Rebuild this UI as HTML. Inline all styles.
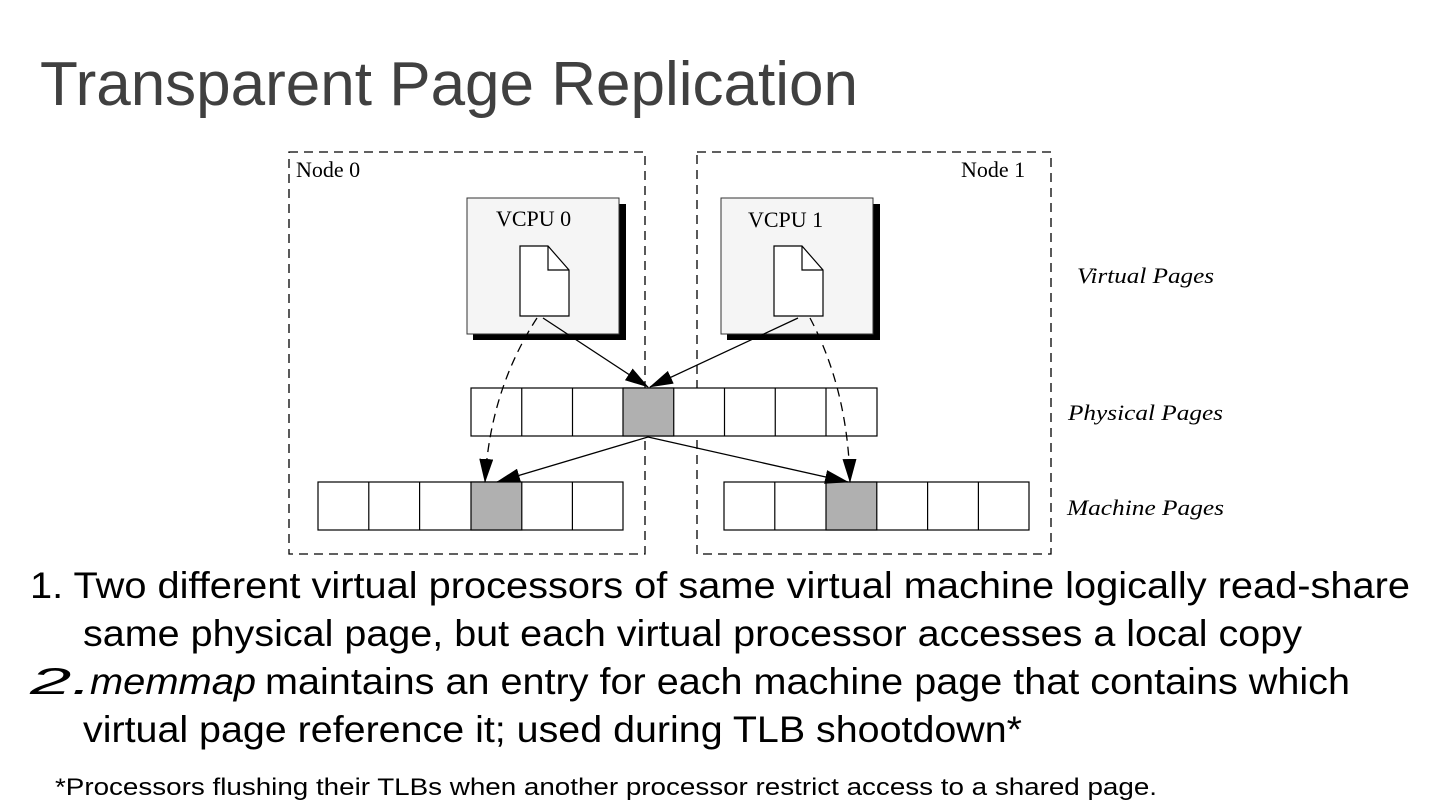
<!DOCTYPE html>
<html><head><meta charset="utf-8"><style>
html,body{margin:0;padding:0;background:#fff;}
svg{display:block}
</style></head><body>
<svg width="1440" height="810" viewBox="0 0 1440 810" xmlns="http://www.w3.org/2000/svg">
<defs>
<marker id="ah" markerWidth="12" markerHeight="10" refX="11" refY="5" orient="auto" markerUnits="userSpaceOnUse">
<path d="M0,0 L12,5 L0,10 Z" fill="#000"/>
</marker>
<marker id="ah2" markerWidth="24" markerHeight="14" refX="23" refY="7" orient="auto" markerUnits="userSpaceOnUse">
<path d="M0,0 L24,7 L0,14 Z" fill="#000"/>
</marker>
</defs>
<text x="40" y="105" font-family="Liberation Sans, sans-serif" font-size="62" fill="#404040" textLength="818" lengthAdjust="spacingAndGlyphs">Transparent Page Replication</text>

<g fill="none" stroke="#000" stroke-width="1.3" stroke-dasharray="9,6">
<rect x="289" y="152" width="356" height="402"/>
<rect x="697" y="152" width="354" height="402"/>
</g>
<g font-family="Liberation Serif, serif" font-size="22" fill="#000">
<text x="296" y="177">Node 0</text>
<text x="961" y="177">Node 1</text>
</g>

<!-- VCPU boxes -->
<rect x="473" y="204" width="153" height="136" fill="#000"/>
<rect x="467" y="198" width="152" height="136" fill="#f5f5f5" stroke="#333" stroke-width="1"/>
<rect x="727" y="204" width="153" height="136" fill="#000"/>
<rect x="721" y="198" width="152" height="136" fill="#f5f5f5" stroke="#333" stroke-width="1"/>
<g font-family="Liberation Serif, serif" font-size="22" fill="#000">
<text x="496" y="226">VCPU 0</text>
<text x="748" y="227">VCPU 1</text>
</g>
<g fill="#fff" stroke="#000" stroke-width="1.2">
<path d="M520,246 L548,246 L569,270 L569,316 L520,316 Z"/>
<path d="M548,246 L548,270 L569,270" fill="none"/>
<path d="M774,246 L802,246 L823,270 L823,316 L774,316 Z"/>
<path d="M802,246 L802,270 L823,270" fill="none"/>
</g>

<!-- physical pages -->
<g stroke="#000" stroke-width="1.2" fill="#fff">
<rect x="471" y="388" width="406" height="48"/>
<rect x="623" y="388" width="50.75" height="48" fill="#b0b0b0"/>
<line x1="521.75" y1="388" x2="521.75" y2="436"/>
<line x1="572.5" y1="388" x2="572.5" y2="436"/>
<line x1="724.5" y1="388" x2="724.5" y2="436"/>
<line x1="775.25" y1="388" x2="775.25" y2="436"/>
<line x1="826" y1="388" x2="826" y2="436"/>
<!-- machine left -->
<rect x="318" y="482" width="305" height="48"/>
<rect x="471" y="482" width="50.8" height="48" fill="#b0b0b0"/>
<line x1="368.8" y1="482" x2="368.8" y2="530"/>
<line x1="419.6" y1="482" x2="419.6" y2="530"/>
<line x1="572.4" y1="482" x2="572.4" y2="530"/>
<!-- machine right -->
<rect x="724" y="482" width="305" height="48"/>
<rect x="826" y="482" width="50.8" height="48" fill="#b0b0b0"/>
<line x1="774.8" y1="482" x2="774.8" y2="530"/>
<line x1="927.6" y1="482" x2="927.6" y2="530"/>
<line x1="978.4" y1="482" x2="978.4" y2="530"/>
</g>

<!-- arrows -->
<g stroke="#000" stroke-width="1.3" fill="none">
<line x1="543" y1="318" x2="648" y2="387" marker-end="url(#ah2)"/>
<line x1="798" y1="318" x2="650" y2="387" marker-end="url(#ah2)"/>
<line x1="648" y1="437" x2="497" y2="482" marker-end="url(#ah2)"/>
<line x1="648" y1="437" x2="848" y2="482" marker-end="url(#ah2)"/>
<path d="M537,318 Q490,390 485,482" stroke-dasharray="9,6" marker-end="url(#ah2)"/>
<path d="M810,318 Q848,390 850,482" stroke-dasharray="9,6" marker-end="url(#ah2)"/>
</g>

<g font-family="Liberation Serif, serif" font-style="italic" font-size="22" fill="#000">
<text x="1077" y="283" textLength="137" lengthAdjust="spacingAndGlyphs">Virtual Pages</text>
<text x="1068" y="420" textLength="155" lengthAdjust="spacingAndGlyphs">Physical Pages</text>
<text x="1067" y="515" textLength="157" lengthAdjust="spacingAndGlyphs">Machine Pages</text>
</g>

<g font-family="Liberation Sans, sans-serif" font-size="37" fill="#000">
<text x="30" y="598" textLength="1380" lengthAdjust="spacingAndGlyphs">1. Two different virtual processors of same virtual machine logically read-share</text>
<text x="83" y="646" textLength="1219" lengthAdjust="spacingAndGlyphs">same physical page, but each virtual processor accesses a local copy</text>
<text x="30" y="694" font-style="italic" textLength="62" lengthAdjust="spacingAndGlyphs">2.</text>
<text x="90" y="694" font-style="italic" textLength="166" lengthAdjust="spacingAndGlyphs">memmap</text>
<text x="265" y="694" textLength="1085" lengthAdjust="spacingAndGlyphs">maintains an entry for each machine page that contains which</text>
<text x="83" y="742" textLength="939" lengthAdjust="spacingAndGlyphs">virtual page reference it; used during TLB shootdown*</text>
</g>
<text x="55" y="795" font-family="Liberation Sans, sans-serif" font-size="24" fill="#000" textLength="1102" lengthAdjust="spacingAndGlyphs">*Processors flushing their TLBs when another processor restrict access to a shared page.</text>
</svg>
</body></html>
